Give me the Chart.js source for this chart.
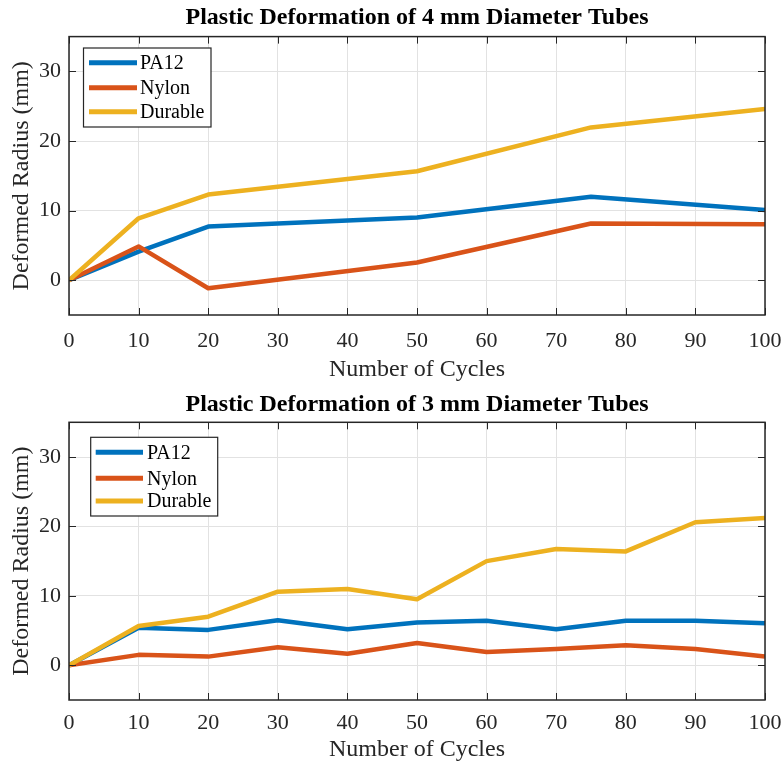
<!DOCTYPE html>
<html>
<head>
<meta charset="utf-8">
<script src="https://cdn.jsdelivr.net/npm/chart.js@4.4.0/dist/chart.umd.min.js"></script>
<style>
  html, body { margin: 0; padding: 0; background: #fff; }
  .panel { position: absolute; left: 0; width: 782px; }
  #panelTop { top: 0; height: 390px; }
  #panelBottom { top: 390px; height: 374px; }
</style>
</head>
<body>
<div class="panel" id="panelTop"><canvas id="chartTop" width="782" height="390"></canvas></div>
<div class="panel" id="panelBottom"><canvas id="chartBottom" width="782" height="374"></canvas></div>
<script>
// datos
const seriesNames = ['PA12', 'Nylon', 'Durable'];
const seriesColors = ['#0072BD', '#D95319', '#EDB120'];

const cyclesTop = [0, 10, 20, 50, 75, 100];
const pa12Top = [0, 4.1, 7.7, 9.0, 12.0, 10.1];
const nylonTop = [0, 4.85, -1.15, 2.55, 8.15, 8.05];
const durableTop = [0, 8.9, 12.3, 15.65, 21.95, 24.6];

const cyclesBottom = [0, 10, 20, 30, 40, 50, 60, 70, 80, 90, 100];
const pa12Bottom = [0, 5.4, 5.1, 6.5, 5.2, 6.15, 6.4, 5.2, 6.4, 6.4, 6.05];
const nylonBottom = [0, 1.5, 1.25, 2.6, 1.65, 3.2, 1.9, 2.35, 2.9, 2.35, 1.25];
const durableBottom = [0, 5.65, 7.0, 10.6, 11.0, 9.5, 15.0, 16.75, 16.4, 20.6, 21.2];

const xTickValues = [0, 10, 20, 30, 40, 50, 60, 70, 80, 90, 100];
const yTickValues = [0, 10, 20, 30];

const serif = "'Liberation Serif', 'Times New Roman', serif";
const axisColor = '#262626';

// marco, marcas hacia dentro y leyenda con borde
const boxPlugin = {
  id: 'boxPlugin',
  afterDatasetsDraw(chart) {
    const ctx = chart.ctx;
    const a = chart.chartArea;
    const xs = chart.scales.x, ys = chart.scales.y;
    const tl = 7;
    ctx.save();
    ctx.strokeStyle = axisColor;
    ctx.lineWidth = 1;
    ctx.beginPath();
    xTickValues.forEach(v => {
      const px = Math.round(xs.getPixelForValue(v)) + 0.5;
      ctx.moveTo(px, a.bottom); ctx.lineTo(px, a.bottom - tl);
      ctx.moveTo(px, a.top); ctx.lineTo(px, a.top + tl);
    });
    yTickValues.forEach(v => {
      const py = Math.round(ys.getPixelForValue(v)) + 0.5;
      ctx.moveTo(a.left, py); ctx.lineTo(a.left + tl, py);
      ctx.moveTo(a.right, py); ctx.lineTo(a.right - tl, py);
    });
    ctx.stroke();
    ctx.lineWidth = 1.5;
    ctx.strokeRect(a.left, a.top, a.right - a.left, a.bottom - a.top);

    const lg = chart.options.plugins.boxPlugin;
    ctx.fillStyle = '#fff';
    ctx.fillRect(lg.x, lg.y, lg.w, lg.h);
    ctx.lineWidth = 1.2;
    ctx.strokeRect(lg.x, lg.y, lg.w, lg.h);
    ctx.font = '20px ' + serif;
    ctx.textBaseline = 'middle';
    ctx.textAlign = 'left';
    chart.data.datasets.forEach((ds, i) => {
      const y = lg.y + lg.rows[i];
      ctx.strokeStyle = ds.borderColor;
      ctx.lineWidth = 5;
      ctx.beginPath();
      ctx.moveTo(lg.lineX1, y); ctx.lineTo(lg.lineX2, y);
      ctx.stroke();
      ctx.fillStyle = '#000';
      ctx.fillText(ds.label, lg.textX, y + 1);
    });
    ctx.restore();
  }
};

function crearGrafico(id, titulo, cycles, valores, layoutOpts) {
  const datasets = valores.map((vals, i) => ({
    label: seriesNames[i],
    data: cycles.map((c, j) => ({ x: c, y: vals[j] })),
    borderColor: seriesColors[i],
    backgroundColor: seriesColors[i],
    borderWidth: 4.5,
    pointRadius: 0,
    tension: 0,
    borderJoinStyle: 'round',
    order: 3 - i
  }));

  return new Chart(document.getElementById(id), {
    type: 'line',
    data: { datasets },
    plugins: [boxPlugin],
    options: {
      responsive: false,
      animation: false,
      layout: { padding: { left: 0, right: 17, top: 0, bottom: 0 }, autoPadding: false },
      plugins: {
        legend: { display: false },
        tooltip: { enabled: false },
        title: {
          display: true,
          fullSize: false,
          text: titulo,
          color: '#000',
          font: { family: serif, size: 24, weight: 'bold' },
          padding: layoutOpts.titlePadding
        },
        boxPlugin: layoutOpts.legend
      },
      scales: {
        x: {
          type: 'linear',
          min: 0,
          max: 100,
          afterBuildTicks: s => { s.ticks = xTickValues.map(v => ({ value: v })); },
          afterFit: s => { s.height = layoutOpts.xHeight; s.paddingLeft = 0; s.paddingRight = 0; },
          grid: { color: '#e2e2e2', lineWidth: 1, drawTicks: false },
          border: { display: false },
          ticks: {
            color: axisColor,
            font: { family: serif, size: 22 },
            padding: layoutOpts.xTickPad,
            maxRotation: 0
          },
          title: {
            display: true,
            text: 'Number of Cycles',
            color: axisColor,
            font: { family: serif, size: 24 },
            padding: { top: 0, bottom: layoutOpts.xTitlePad }
          }
        },
        y: {
          min: -5,
          max: 35,
          afterBuildTicks: s => { s.ticks = yTickValues.map(v => ({ value: v })); },
          afterFit: s => { s.width = 69; s.paddingTop = 0; s.paddingBottom = 0; },
          grid: { color: '#e2e2e2', lineWidth: 1, drawTicks: false },
          border: { display: false },
          ticks: {
            color: axisColor,
            font: { family: serif, size: 22 },
            padding: 8
          },
          title: {
            display: true,
            text: 'Deformed Radius (mm)',
            color: axisColor,
            font: { family: serif, size: 24 },
            padding: { top: 7, bottom: 0 }
          }
        }
      }
    }
  });
}

crearGrafico('chartTop', 'Plastic Deformation of 4 mm Diameter Tubes', cyclesTop,
  [pa12Top, nylonTop, durableTop],
  {
    titlePadding: { top: 3.6, bottom: 4.2 },
    xHeight: 75,
    xTickPad: 13,
    xTitlePad: 5.6,
    legend: { x: 83.5, y: 48, w: 127.5, h: 79, rows: [14.7, 39.7, 63.7], lineX1: 89, lineX2: 137, textX: 140 }
  });

crearGrafico('chartBottom', 'Plastic Deformation of 3 mm Diameter Tubes', cyclesBottom,
  [pa12Bottom, nylonBottom, durableBottom],
  {
    titlePadding: { top: 0, bottom: 3.5 },
    xHeight: 64,
    xTickPad: 10,
    xTitlePad: 0,
    legend: { x: 90.7, y: 47.3, w: 127, h: 78.7, rows: [15, 41, 63.7], lineX1: 95.7, lineX2: 143, textX: 147 }
  });
</script>
</body>
</html>
